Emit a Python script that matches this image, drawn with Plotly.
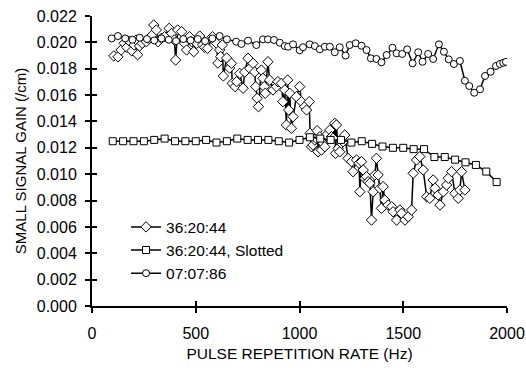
import plotly.graph_objects as go

# ---- data ----
diamond_x = [105, 125, 140, 155, 168, 180, 192, 203, 213, 220, 229, 242, 262, 276, 290, 298,
             310, 318, 334, 350, 372, 384, 397, 403, 413, 432, 446, 456, 470, 480, 490, 504,
             519, 533, 543, 557, 581, 600, 607, 615, 620, 628, 633, 649, 663, 672, 676, 690,
             697, 712, 728, 736, 752, 760, 776, 784, 789, 796, 802, 816, 824, 830, 835, 848,
             856, 872, 889, 896, 913, 920, 929, 937, 943, 948, 953, 961, 969, 985, 1001, 1009,
             1025, 1034, 1047, 1051, 1058, 1065, 1074, 1080, 1085, 1089, 1098, 1106, 1114, 1122,
             1130, 1146, 1154, 1162, 1170, 1174, 1178, 1186, 1194, 1202, 1210, 1218, 1234, 1251,
             1258, 1275, 1287, 1291, 1299, 1307, 1315, 1323, 1331, 1339, 1347, 1355, 1363, 1371,
             1379, 1387, 1395, 1403, 1411, 1427, 1444, 1451, 1468, 1484, 1492, 1508, 1524, 1540,
             1548, 1564, 1580, 1596, 1613, 1628, 1644, 1653, 1668, 1677, 1693, 1709, 1717, 1733,
             1749, 1765, 1773, 1781, 1797]
diamond_y = [0.01897, 0.01890, 0.01942, 0.01993, 0.01962, 0.02010, 0.01935, 0.01980, 0.02018,
             0.01906, 0.01972, 0.01993, 0.02005, 0.02030, 0.02056, 0.02132, 0.02094, 0.02005,
             0.02030, 0.02043, 0.02106, 0.02068, 0.02018, 0.01866, 0.02094, 0.02081, 0.01993,
             0.01942, 0.02043, 0.02005, 0.01929, 0.01993, 0.02048, 0.01980, 0.01962, 0.01955,
             0.02043, 0.01993, 0.01843, 0.01942, 0.01892, 0.01980, 0.01745, 0.01881, 0.01805,
             0.01841, 0.01689, 0.01664, 0.01702, 0.01765, 0.01652, 0.01775, 0.01879, 0.01803,
             0.01841, 0.01775, 0.01664, 0.01576, 0.01512, 0.01790, 0.01727, 0.01664, 0.01614,
             0.01853, 0.01714, 0.01639, 0.01664, 0.01702, 0.01689, 0.01550, 0.01639, 0.01373,
             0.01714, 0.01487, 0.01614, 0.01348, 0.01436, 0.01588, 0.01664, 0.01550, 0.01512,
             0.01487, 0.01550, 0.01310, 0.01208, 0.01221, 0.01259, 0.01272, 0.01330, 0.01170,
             0.01284, 0.01183, 0.01234, 0.01208, 0.01297, 0.01335, 0.01284, 0.01272, 0.01386,
             0.01158, 0.01373, 0.01196, 0.01170, 0.01234, 0.01246, 0.01297, 0.01120, 0.01095,
             0.01019, 0.01108, 0.01083, 0.00867, 0.01095, 0.01032, 0.00969, 0.00981, 0.00943,
             0.00931, 0.00652, 0.00867, 0.00994, 0.01120, 0.00994, 0.00893, 0.00741, 0.00905,
             0.00804, 0.00766, 0.00753, 0.00715, 0.00652, 0.00728, 0.00703, 0.00652, 0.00677,
             0.00728, 0.01007, 0.01108, 0.01133, 0.01032, 0.00829, 0.00817, 0.00956, 0.00893,
             0.00842, 0.00766, 0.00867, 0.00918, 0.00969, 0.01019, 0.00855, 0.00817, 0.00880,
             0.01019, 0.00880]

square_x = [100, 150, 200, 250, 300, 350, 400, 450, 500, 550, 600, 650, 700, 750, 800, 850,
            900, 950, 1000, 1050, 1100, 1150, 1200, 1250, 1300, 1350, 1400, 1450, 1500, 1550,
            1600, 1650, 1700, 1750, 1800, 1850, 1900, 1950]
square_y = [0.0125, 0.0125, 0.0125, 0.0125, 0.0126, 0.0127, 0.0125, 0.0125, 0.0125, 0.0126,
            0.0124, 0.0125, 0.0127, 0.0126, 0.0126, 0.0126, 0.0125, 0.0124, 0.0126, 0.0128,
            0.0127, 0.0126, 0.0126, 0.0124, 0.0125, 0.0123, 0.0121, 0.0120, 0.0120, 0.0119,
            0.0119, 0.0113, 0.0113, 0.0111, 0.0109, 0.0107, 0.0102, 0.0094]

circle_x = [95, 125, 160, 195, 230, 265, 300, 335, 370, 405, 440, 475, 510, 545, 580, 615,
            650, 695, 720, 752, 792, 824, 848, 877, 905, 929, 945, 969, 1001, 1017, 1049, 1074,
            1098, 1122, 1146, 1170, 1194, 1222, 1242, 1271, 1299, 1323, 1344, 1371, 1395, 1420,
            1448, 1468, 1495, 1519, 1545, 1572, 1593, 1620, 1644, 1672, 1696, 1719, 1744, 1773,
            1797, 1818, 1842, 1870, 1894, 1921, 1947, 1966, 1982, 1995]
circle_y = [0.02030, 0.02048, 0.02030, 0.02020, 0.02035, 0.02025, 0.02015, 0.02030, 0.02020,
            0.02010, 0.02025, 0.02015, 0.02025, 0.02010, 0.02030, 0.02048, 0.02023, 0.02005,
            0.01988, 0.02013, 0.01980, 0.02023, 0.02023, 0.02018, 0.01997, 0.01972, 0.01967,
            0.01985, 0.01940, 0.01963, 0.01985, 0.01972, 0.01947, 0.01967, 0.01967, 0.01925,
            0.01963, 0.01900, 0.01980, 0.01993, 0.01975, 0.01942, 0.01879, 0.01874, 0.01849,
            0.01904, 0.01959, 0.01917, 0.01912, 0.01947, 0.01841, 0.01925, 0.01853, 0.01912,
            0.01874, 0.01985, 0.01929, 0.01871, 0.01836, 0.01859, 0.01709, 0.01669, 0.01618,
            0.01644, 0.01745, 0.01777, 0.01821, 0.01836, 0.01845, 0.01852]

x_ticks = [0, 500, 1000, 1500, 2000]
y_ticks = [0.000, 0.002, 0.004, 0.006, 0.008, 0.010, 0.012, 0.014, 0.016, 0.018, 0.020, 0.022]
y_tick_text = [f"{v:.3f}" for v in y_ticks]

FONT = "Liberation Sans, Arial, sans-serif"

fig = go.Figure()
common_marker = dict(color="white", line=dict(color="black", width=1))
fig.add_trace(go.Scatter(x=diamond_x, y=diamond_y, mode="lines+markers", name="36:20:44",
                         line=dict(color="black", width=1.5),
                         marker=dict(symbol="diamond", size=8, **common_marker)))
fig.add_trace(go.Scatter(x=square_x, y=square_y, mode="lines+markers", name="36:20:44, Slotted",
                         line=dict(color="black", width=1.5),
                         marker=dict(symbol="square", size=7, **common_marker)))
fig.add_trace(go.Scatter(x=circle_x, y=circle_y, mode="lines+markers", name="07:07:86",
                         line=dict(color="black", width=1.5),
                         marker=dict(symbol="circle", size=7, **common_marker)))
# helper trace so the overlay axes (inner half of crossing ticks) are drawn
fig.add_trace(go.Scatter(x=[], y=[], xaxis="x2", yaxis="y2", showlegend=False, hoverinfo="skip"))

axis_common = dict(showgrid=False, zeroline=False, ticks="outside", ticklen=5, tickwidth=2,
                   tickcolor="black", showline=True, linecolor="black", linewidth=2,
                   automargin=False,
                   tickfont=dict(family=FONT, size=16, color="black"))

fig.update_layout(
    width=526, height=368,
    margin=dict(l=92, r=19, t=16, b=62),
    paper_bgcolor="white", plot_bgcolor="white",
    font=dict(family=FONT, size=15, color="black"),
    xaxis=dict(range=[0, 2000], tickvals=x_ticks, ticklabelstandoff=7,
               title=dict(text="PULSE REPETITION RATE (Hz)", font=dict(family=FONT, size=15.5), standoff=7),
               **axis_common),
    yaxis=dict(range=[0, 0.022], tickvals=y_ticks, ticktext=y_tick_text, ticklabelstandoff=5,
               title=dict(text="SMALL SIGNAL GAIN (/cm)", font=dict(family=FONT, size=15), standoff=7),
               **axis_common),
    xaxis2=dict(range=[0, 2000], overlaying="x", anchor="y2", side="bottom", tickvals=x_ticks,
                ticks="inside", ticklen=5, tickwidth=2, tickcolor="black", showticklabels=False,
                showline=False, showgrid=False, zeroline=False, automargin=False),
    yaxis2=dict(range=[0, 0.022], overlaying="y", anchor="x2", side="left", tickvals=y_ticks,
                ticks="inside", ticklen=5, tickwidth=2, tickcolor="black", showticklabels=False,
                showline=False, showgrid=False, zeroline=False, automargin=False),
    legend=dict(x=0.082, y=0.33, xanchor="left", yanchor="top", bgcolor="rgba(0,0,0,0)",
                itemwidth=30, font=dict(family=FONT, size=15.5), tracegroupgap=0),
    showlegend=True,
)

fig.write_html("out.html")
